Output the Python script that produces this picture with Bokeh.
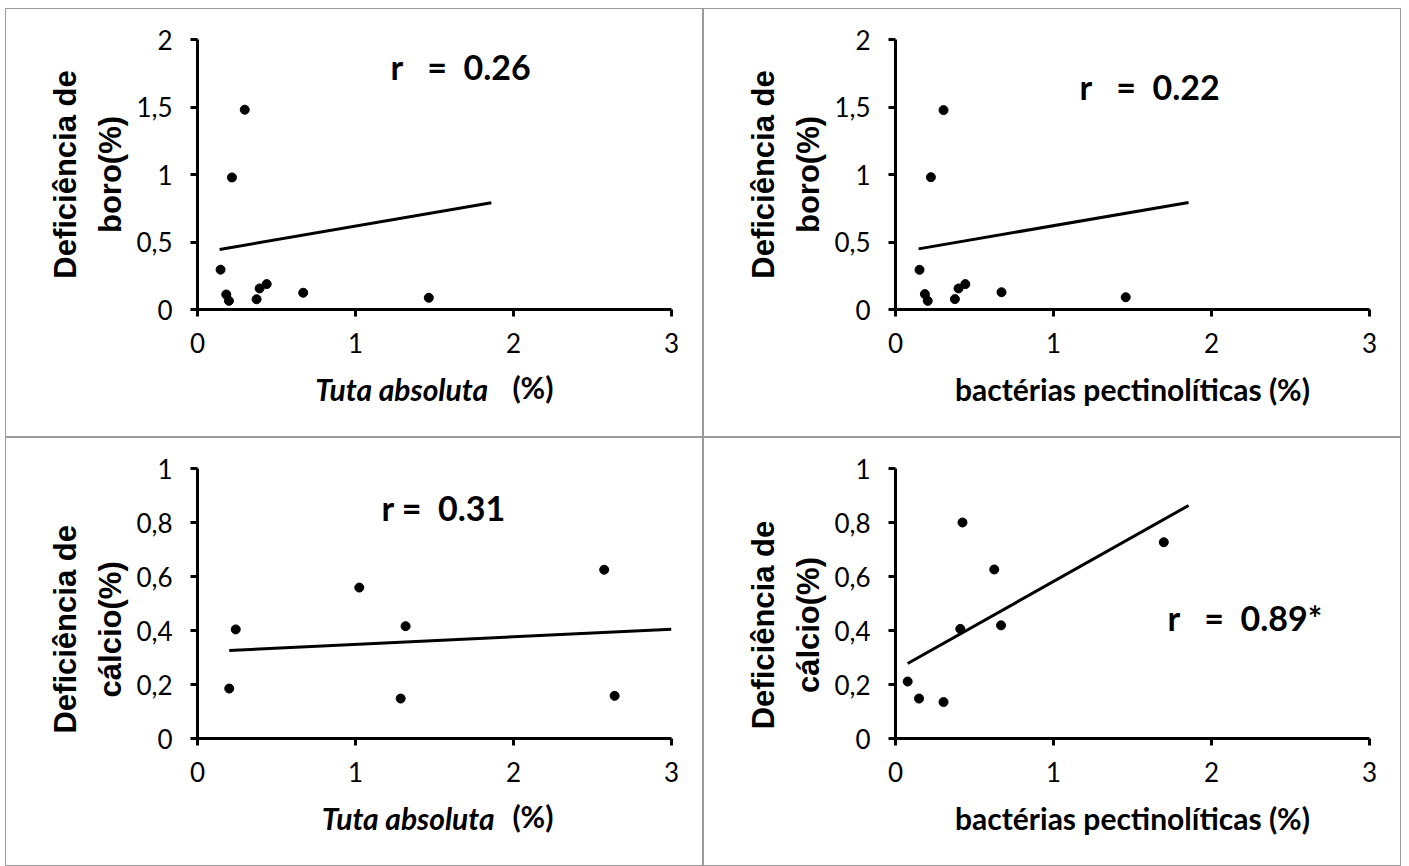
from bokeh.plotting import figure
from bokeh.models import Range1d, FixedTicker, Label, Spacer, LinearAxis
from bokeh.layouts import row, column
from bokeh.embed import file_html
from bokeh.resources import INLINE

# ---------------- data ----------------
x_ticks = [0, 1, 2, 3]
x_tick_labels = ["0", "1", "2", "3"]
boro_ticks = [0, 0.5, 1, 1.5, 2]
boro_tick_labels = ["0", "0,5", "1", "1,5", "2"]
calcio_ticks = [0, 0.2, 0.4, 0.6, 0.8, 1]
calcio_tick_labels = ["0", "0,2", "0,4", "0,6", "0,8", "1"]

boro_tuta_x = [0.146, 0.182, 0.199, 0.299, 0.218, 0.374, 0.393, 0.438, 0.669, 1.464]
boro_tuta_y = [0.295, 0.111, 0.064, 1.480, 0.978, 0.076, 0.156, 0.188, 0.124, 0.087]
boro_tuta_trend_x = [0.140, 1.860]
boro_tuta_trend_y = [0.445, 0.790]

boro_bact_x = [0.152, 0.186, 0.204, 0.304, 0.224, 0.376, 0.399, 0.442, 0.671, 1.457]
boro_bact_y = [0.294, 0.114, 0.064, 1.477, 0.980, 0.077, 0.156, 0.188, 0.128, 0.091]
boro_bact_trend_x = [0.146, 1.855]
boro_bact_trend_y = [0.449, 0.793]

calcio_tuta_x = [0.201, 0.242, 1.024, 1.317, 1.286, 2.574, 2.640]
calcio_tuta_y = [0.185, 0.404, 0.559, 0.416, 0.148, 0.625, 0.158]
calcio_tuta_trend_x = [0.201, 3.000]
calcio_tuta_trend_y = [0.326, 0.405]

calcio_bact_x = [0.077, 0.149, 0.304, 0.410, 0.424, 0.625, 0.668, 1.698]
calcio_bact_y = [0.211, 0.148, 0.135, 0.406, 0.800, 0.626, 0.419, 0.727]
calcio_bact_trend_x = [0.077, 1.855]
calcio_bact_trend_y = [0.278, 0.863]

NB = "\u00a0"
r_texts = ["r" + NB * 3 + "=" + NB * 2 + "0.26",
           "r" + NB * 3 + "=" + NB * 2 + "0.22",
           "r" + NB + "=" + NB * 2 + "0.31",
           "r" + NB * 3 + "=" + NB * 2 + "0.89*"]
ylabel_line1 = "Deficiência de"
ylabel_line2 = ["boro(%)", "boro(%)", "cálcio(%)", "cálcio(%)"]
xlabel_tuta = "Tuta absoluta"
xlabel_pct = "(%)"
xlabel_bact = "bactérias pectinolíticas (%)"

# ---------------- geometry ----------------
W, H = 698, 429
ML, MR, MT, MB = 191, 33, 30, 129
FW, FH = W - ML - MR, H - MT - MB
CAL = "Lato"
ARIAL = "Liberation Sans"


def label_axis(p, text, font, style, size, standoff, place, lh=1.2):
    ax = LinearAxis(ticker=FixedTicker(ticks=[]), axis_label=text)
    ax.axis_line_color = None
    ax.major_tick_line_color = None
    ax.minor_tick_line_color = None
    ax.major_label_text_font_size = "0px"
    ax.axis_label_text_font = font
    ax.axis_label_text_font_style = style
    ax.axis_label_text_font_size = size
    ax.axis_label_text_color = "black"
    ax.axis_label_standoff = standoff
    ax.axis_label_text_line_height = lh
    p.add_layout(ax, place)
    return ax


def make_panel(xs, ys, tx, ty, ymax, yticks, ylabels, rtext, rpos,
               line2, ypad, xlab_kind, xpad):
    p = figure(width=W, height=H, output_backend="svg", toolbar_location=None,
               x_range=Range1d(0, 3), y_range=Range1d(0, ymax),
               min_border_left=ML, min_border_right=MR,
               min_border_top=MT, min_border_bottom=MB,
               background_fill_color="white", border_fill_color="white",
               styles={"border": "1px solid #9a9a9a"})
    p.outline_line_color = None
    p.grid.visible = False

    def sx(px):
        return (px - ML) / FW * 3.0

    def sy(py):
        return (MT + FH - py) / FH * ymax

    for ax in (p.xaxis[0], p.yaxis[0]):
        ax.axis_line_width = 3
        ax.axis_line_color = "black"
        ax.major_tick_line_width = 3
        ax.major_tick_line_color = "black"
        ax.major_tick_out = 7
        ax.major_tick_in = 0
        ax.minor_tick_line_color = None
        ax.major_label_text_font = CAL
        ax.major_label_text_font_size = "26px"
        ax.major_label_text_color = "black"
    p.xaxis[0].ticker = FixedTicker(ticks=x_ticks)
    p.xaxis[0].major_label_overrides = dict(zip(x_ticks, x_tick_labels))
    p.xaxis[0].major_label_standoff = 16
    p.yaxis[0].ticker = FixedTicker(ticks=yticks)
    p.yaxis[0].major_label_overrides = dict(zip(yticks, ylabels))
    p.yaxis[0].major_label_standoff = 18

    p.line(tx, ty, line_color="black", line_width=3)
    p.scatter(xs, ys, size=9, fill_color="black", line_color="black")

    p.add_layout(Label(x=sx(rpos[0]), y=sy(rpos[1]), text=rtext,
                       text_font=CAL, text_font_style="bold",
                       text_font_size="34px", text_color="black",
                       text_align="left", text_baseline="alphabetic"))

    ylab = ylabel_line1 + NB * ypad + "\n" + line2 + NB * ypad
    label_axis(p, ylab, ARIAL, "bold", "31px", 6, "left", lh=1.28)

    if xlab_kind == "tuta":
        trail, lead = xpad
        label_axis(p, xlabel_tuta + NB * trail, CAL, "bold italic", "30px",
                   15, "below")
        label_axis(p, NB * lead + xlabel_pct, CAL, "bold", "30px",
                   -41, "below")
    else:
        label_axis(p, xlabel_bact, CAL, "bold", "30px", 15, "below")
    return p


p1 = make_panel(boro_tuta_x, boro_tuta_y, boro_tuta_trend_x, boro_tuta_trend_y,
                2, boro_ticks, boro_tick_labels, r_texts[0], (384, 57),
                ylabel_line2[0], 0, "tuta", (10, 27))
p2 = make_panel(boro_bact_x, boro_bact_y, boro_bact_trend_x, boro_bact_trend_y,
                2, boro_ticks, boro_tick_labels, r_texts[1], (375, 77),
                ylabel_line2[1], 0, "bact", None)
p3 = make_panel(calcio_tuta_x, calcio_tuta_y, calcio_tuta_trend_x, calcio_tuta_trend_y,
                1, calcio_ticks, calcio_tick_labels, r_texts[2], (375, 69),
                ylabel_line2[2], 6, "tuta", (8, 27))
p4 = make_panel(calcio_bact_x, calcio_bact_y, calcio_bact_trend_x, calcio_bact_trend_y,
                1, calcio_ticks, calcio_tick_labels, r_texts[3], (463, 179),
                ylabel_line2[3], 5, "bact", None)

layout = column(Spacer(height=8),
                row(Spacer(width=5), column(row(p1, p2), row(p3, p4))))

open("out.html", "w").write(file_html(layout, INLINE))
